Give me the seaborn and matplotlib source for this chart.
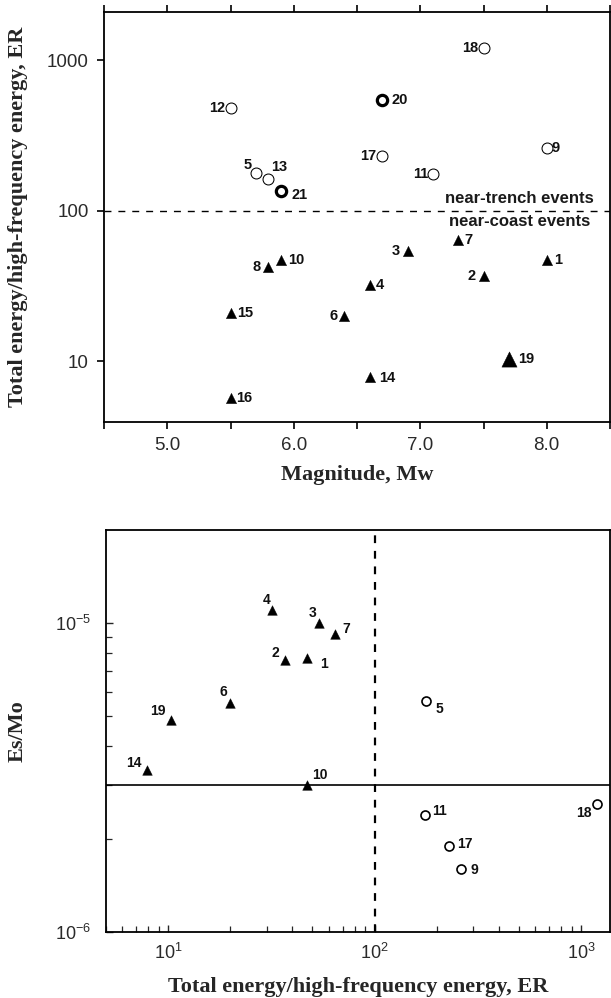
import numpy as np
import pandas as pd
import matplotlib
matplotlib.use("Agg")
import matplotlib.pyplot as plt
import seaborn as sns
from matplotlib.ticker import FixedLocator, NullFormatter, NullLocator, LogLocator

sns.set_theme(style="ticks")
plt.rcParams['font.family'] = ['Liberation Sans', 'DejaVu Sans']
plt.rcParams['mathtext.fontset'] = 'custom'
plt.rcParams['mathtext.rm'] = 'Liberation Sans'

# ---------------- data ----------------
events = [1, 2, 3, 4, 5, 6, 7, 8, 9, 10, 11, 12, 13, 14, 15, 16, 17, 18, 19, 20, 21]
magnitude = [8.0, 7.5, 6.9, 6.6, 5.7, 6.4, 7.3, 5.8, 8.0, 5.9, 7.1,
             5.5, 5.8, 6.6, 5.5, 5.5, 6.7, 7.5, 7.7, 6.7, 5.9]
energy_ratio = [47, 37, 54, 32, 177, 20, 64, 42, 262, 47, 175,
                480, 162, 7.9, 20.8, 5.7, 230, 1200, 10.3, 540, 135]
# event class: 'coast' (filled triangle) / 'trench' (open circle)
event_class = ['coast', 'coast', 'coast', 'coast', 'trench', 'coast', 'coast', 'coast',
               'trench', 'coast', 'trench', 'trench', 'trench', 'coast', 'coast', 'coast',
               'trench', 'trench', 'coast', 'trench', 'trench']
highlight = [19, 20, 21]  # drawn with heavier symbols in upper panel

# lower panel: scaled energy Es/Mo
esmo_events = [1, 2, 3, 4, 5, 6, 7, 9, 10, 11, 14, 17, 18, 19]
esmo_values = [7.7e-6, 7.6e-6, 1.0e-5, 1.1e-5, 5.6e-6, 5.5e-6, 9.2e-6,
               1.6e-6, 3.0e-6, 2.4e-6, 3.35e-6, 1.9e-6, 2.6e-6, 4.85e-6]

er_threshold = 100
esmo_threshold = 3e-6

df = pd.DataFrame({"event": events, "Mw": magnitude, "ER": energy_ratio, "cls": event_class})
df["hl"] = df["event"].isin(highlight)
low = pd.DataFrame({"event": esmo_events, "EsMo": esmo_values})
low = low.merge(df[["event", "ER", "cls"]], on="event")

# label offsets (pixels): (dx, dy, ha)
top_off = {18: (-5, 0, 'right'), 20: (9, 0, 'left'), 12: (-5, 0, 'right'), 9: (5, 0, 'left'),
           17: (-6, 0, 'right'), 11: (-5, 0, 'right'), 5: (-8, 8, 'center'), 13: (3, 12, 'left'),
           21: (10, -4, 'left'), 7: (6, 0, 'left'), 3: (-8, 0, 'right'), 10: (7, 0, 'left'),
           1: (7, 0, 'left'), 8: (-8, 0, 'right'), 2: (-8, 0, 'right'), 4: (6, 0, 'left'),
           15: (7, 0, 'left'), 6: (-7, 0, 'right'), 19: (9, 0, 'left'), 14: (9, -1, 'left'),
           16: (6, 0, 'left')}
low_off = {4: (-2, 10, 'right'), 3: (-3, 10, 'right'), 7: (8, 5, 'left'), 2: (-6, 7, 'right'),
           1: (13, -6, 'left'), 6: (-3, 11, 'right'), 19: (-5, 9, 'right'), 5: (10, -8, 'left'),
           14: (-5, 7, 'right'), 10: (5, 10, 'left'), 11: (7, 4, 'left'), 18: (-6, -9, 'right'),
           17: (8, 2, 'left'), 9: (9, -1, 'left')}

PX = 0.72  # px -> pt at 100 dpi
fig = plt.figure(figsize=(6.11, 9.98), dpi=100)
ax1 = fig.add_axes([104 / 611, 1 - 422 / 998, 506 / 611, 410 / 998])
ax2 = fig.add_axes([106 / 611, 1 - 932 / 998, 504 / 611, 402 / 998])

tick_col = '#2a2a2a'
serif = dict(family=['Liberation Serif', 'DejaVu Serif'], fontweight='bold', fontsize=16)

# ---------------- upper panel ----------------
tri = df[(df.cls == 'coast') & (~df.hl)]
circ = df[(df.cls == 'trench') & (~df.hl)]
tri_big = df[(df.cls == 'coast') & (df.hl)]
circ_bold = df[(df.cls == 'trench') & (df.hl)]

sns.scatterplot(data=tri, x="Mw", y="ER", marker='^', s=55, color='black',
                edgecolor='black', linewidth=0.3, ax=ax1, legend=False, zorder=3)
sns.scatterplot(data=tri_big, x="Mw", y="ER", marker='^', s=120, color='black',
                edgecolor='black', linewidth=0.3, ax=ax1, legend=False, zorder=3)
sns.scatterplot(data=circ, x="Mw", y="ER", marker='o', s=62, facecolor='white',
                edgecolor='black', linewidth=0.75, ax=ax1, legend=False, zorder=3)
sns.scatterplot(data=circ_bold, x="Mw", y="ER", marker='o', s=55, facecolor='white',
                edgecolor='black', linewidth=2.3, ax=ax1, legend=False, zorder=3)

ax1.axhline(er_threshold, color='black', lw=1.0, ls=(0, (5, 5)), zorder=2)
ax1.text(0.968, 0.545, 'near-trench events', transform=ax1.transAxes, ha='right',
         va='center', fontsize=12, fontweight='bold', color='#1a1a1a')
ax1.text(0.960, 0.489, 'near-coast events', transform=ax1.transAxes, ha='right',
         va='center', fontsize=12, fontweight='bold', color='#1a1a1a')

for _, r in df.iterrows():
    dx, dy, ha = top_off[r.event]
    ax1.annotate(str(r.event), (r.Mw, r.ER), xytext=(dx * PX, dy * PX),
                 textcoords='offset points', ha=ha, va='center', fontsize=10.5,
                 fontweight='bold', color='#111111')

ax1.set_yscale('log')
ax1.set_xlim(4.5, 8.5)
ax1.set_ylim(3.94, 2085)
ax1.set_xticks(np.arange(4.5, 8.51, 0.5))
ax1.set_xticklabels(['' if abs(v - round(v)) > 0.01 else f'{v:.1f}' for v in np.arange(4.5, 8.51, 0.5)])
ax1.yaxis.set_major_locator(FixedLocator([10, 100, 1000]))
ax1.set_yticklabels(['10', '100', '1000'])
ax1.yaxis.set_minor_locator(NullLocator())
ax1.tick_params(axis='both', which='major', direction='out', length=5, width=1.2,
                labelsize=13.5, colors='black', labelcolor=tick_col, pad=6)
ax1.tick_params(axis='x', top=True, labeltop=False)
ax1.set_xlabel('Magnitude, Mw', labelpad=8, **serif)
ax1.set_ylabel('Total energy/high-frequency energy, ER', **serif)
ax1.yaxis.set_label_coords(-0.150, 0.5)
for sp in ax1.spines.values():
    sp.set_visible(True)
    sp.set_linewidth(1.3)
    sp.set_color('black')

# ---------------- lower panel ----------------
ltri = low[low.cls == 'coast']
lcirc = low[low.cls == 'trench']
sns.scatterplot(data=ltri, x="ER", y="EsMo", marker='^', s=48, color='black',
                edgecolor='black', linewidth=0.3, ax=ax2, legend=False, zorder=3)
sns.scatterplot(data=lcirc, x="ER", y="EsMo", marker='o', s=42, facecolor='white',
                edgecolor='black', linewidth=1.2, ax=ax2, legend=False, zorder=3)

ax2.axvline(er_threshold, color='black', lw=1.6, ls=(0, (3.5, 3.5)), zorder=2)
ax2.axhline(esmo_threshold, color='black', lw=1.2, zorder=2)

for _, r in low.iterrows():
    dx, dy, ha = low_off[r.event]
    ax2.annotate(str(r.event), (r.ER, r.EsMo), xytext=(dx * PX, dy * PX),
                 textcoords='offset points', ha=ha, va='center', fontsize=10,
                 fontweight='bold', color='#111111')

ax2.set_xscale('log')
ax2.set_yscale('log')
ax2.set_xlim(5.0, 1380)
ax2.set_ylim(1e-6, 2e-5)
ax2.xaxis.set_major_locator(FixedLocator([10, 100, 1000]))
ax2.set_xticklabels([r'$\mathregular{10^{1}}$', r'$\mathregular{10^{2}}$', r'$\mathregular{10^{3}}$'])
ax2.xaxis.set_minor_locator(LogLocator(base=10, subs=np.arange(2, 10), numticks=20))
ax2.xaxis.set_minor_formatter(NullFormatter())
ax2.yaxis.set_major_locator(FixedLocator([1e-6, 1e-5]))
ax2.set_yticklabels([r'$\mathregular{10^{-6}}$', r'$\mathregular{10^{-5}}$'])
ax2.yaxis.set_minor_locator(FixedLocator([2e-6, 3e-6, 4e-6, 5e-6, 6e-6, 7e-6, 8e-6, 9e-6]))
ax2.yaxis.set_minor_formatter(NullFormatter())
ax2.tick_params(axis='x', which='major', direction='in', length=5, width=1.0,
                labelsize=13, labelcolor=tick_col, pad=8)
ax2.tick_params(axis='x', which='minor', direction='in', length=4, width=0.9)
ax2.tick_params(axis='y', which='major', direction='in', length=5, width=1.0,
                labelsize=13, labelcolor=tick_col, pad=11)
ax2.tick_params(axis='y', which='minor', direction='in', length=4, width=0.9)
ax2.set_xlabel('Total energy/high-frequency energy, ER', labelpad=10, **serif)
ax2.set_ylabel('Es/Mo', **serif)
ax2.yaxis.set_label_coords(-0.155, 0.5)
for sp in ax2.spines.values():
    sp.set_visible(True)
    sp.set_linewidth(1.3)
    sp.set_color('black')

fig.savefig('out.png', dpi=100, facecolor='white')
